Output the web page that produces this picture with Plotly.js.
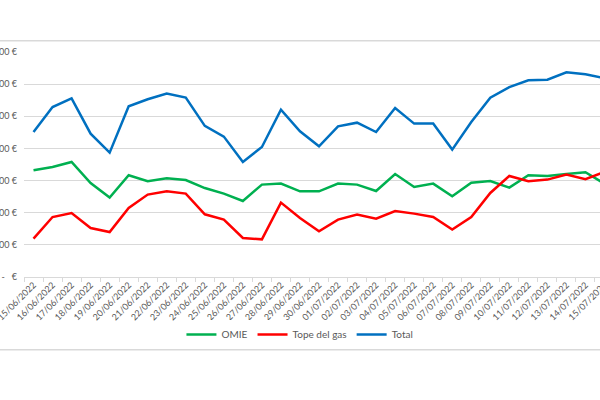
<!DOCTYPE html>
<html>
<head>
<meta charset="utf-8">
<script src="https://cdn.plot.ly/plotly-3.0.1.min.js"></script>
<style>
html,body{margin:0;padding:0;overflow:hidden;background:#fff;width:600px;height:400px;}
#chart{width:620px;height:400px;}
</style>
</head>
<body>
<div id="chart"></div>
<script>
const dates = ["15/06/2022","16/06/2022","17/06/2022","18/06/2022","19/06/2022","20/06/2022","21/06/2022","22/06/2022","23/06/2022","24/06/2022","25/06/2022","26/06/2022","27/06/2022","28/06/2022","29/06/2022","30/06/2022","01/07/2022","02/07/2022","03/07/2022","04/07/2022","05/07/2022","06/07/2022","07/07/2022","08/07/2022","09/07/2022","10/07/2022","11/07/2022","12/07/2022","13/07/2022","14/07/2022","15/07/2022"];
const omie = [166.0,171.1,178.9,146.2,123.5,158.2,148.9,153.5,150.9,138.4,129.7,118.2,143.7,145.3,133.3,133.3,145.3,143.7,133.8,160.2,140.0,145.3,125.5,146.8,149.3,139.0,158.2,157.1,160.2,162.9,145.0];
const tope = [59.7,93.3,99.6,76.2,70.0,107.3,128.2,133.3,129.7,97.5,89.3,60.7,58.6,115.7,91.8,71.1,89.3,97.0,90.8,102.7,98.6,93.3,73.7,93.3,130.7,157.1,148.9,151.5,159.3,152.0,163.4];
const total = [225.5,264.4,278.0,223.0,193.5,265.5,276.4,285.3,279.0,235.0,218.4,179.0,202.2,260.4,226.6,203.3,234.4,240.1,225.5,262.9,238.6,238.6,198.2,241.1,279.0,295.5,306.0,307.0,318.4,315.3,309.5];
const yTickVals = [0,50,100,150,200,250,300,350];
const yTickText = ["-   €","50,00 €","100,00 €","150,00 €","200,00 €","250,00 €","300,00 €","350,00 €"];

const font = {family:"Lato, 'Open Sans', sans-serif", size:9, color:"#595959"};
const traces = [
  {x:dates, y:omie, name:"OMIE", type:"scatter", mode:"lines", line:{color:"#00B050", width:2.5}},
  {x:dates, y:tope, name:"Tope del gas", type:"scatter", mode:"lines", line:{color:"#FF0000", width:2.5}},
  {x:dates, y:total, name:"Total", type:"scatter", mode:"lines", line:{color:"#0070C0", width:2.5}}
];
const layout = {
  width:620, height:400,
  margin:{l:24, r:6, t:52, b:123, pad:0},
  paper_bgcolor:"#ffffff", plot_bgcolor:"#ffffff",
  font:font,
  showlegend:true,
  legend:{orientation:"h", x:0.4677, xanchor:"center", y:-0.255, yanchor:"middle", font:{family:font.family, size:10, color:"#595959"}, itemwidth:30, traceorder:"normal"},
  xaxis:{type:"category", range:[-0.5,30.5], tickangle:-45, tickson:"boundaries", ticks:"outside", ticklen:4, tickcolor:"#D9D9D9",
         showgrid:false, showline:false, zeroline:false, tickfont:font, automargin:false, fixedrange:true},
  yaxis:{range:[0,350], tickvals:yTickVals, ticktext:yTickText, showgrid:true, gridcolor:"#D9D9D9", gridwidth:1,
         zeroline:true, zerolinecolor:"#D9D9D9", zerolinewidth:1, showline:false, ticks:"", ticklabelstandoff:6,
         tickfont:font, automargin:false, fixedrange:true},
  shapes:[
    {type:"line", xref:"paper", yref:"paper", x0:-0.1, x1:1.1, y0:1.0498, y1:1.0498, line:{color:"#D9D9D9", width:1.5}, layer:"below"},
    {type:"line", xref:"paper", yref:"paper", x0:-0.1, x1:1.1, y0:-0.3236, y1:-0.3236, line:{color:"#D9D9D9", width:1.5}, layer:"below"}
  ]
};
Plotly.newPlot("chart", traces, layout, {displayModeBar:false, staticPlot:true});
</script>
</body>
</html>
